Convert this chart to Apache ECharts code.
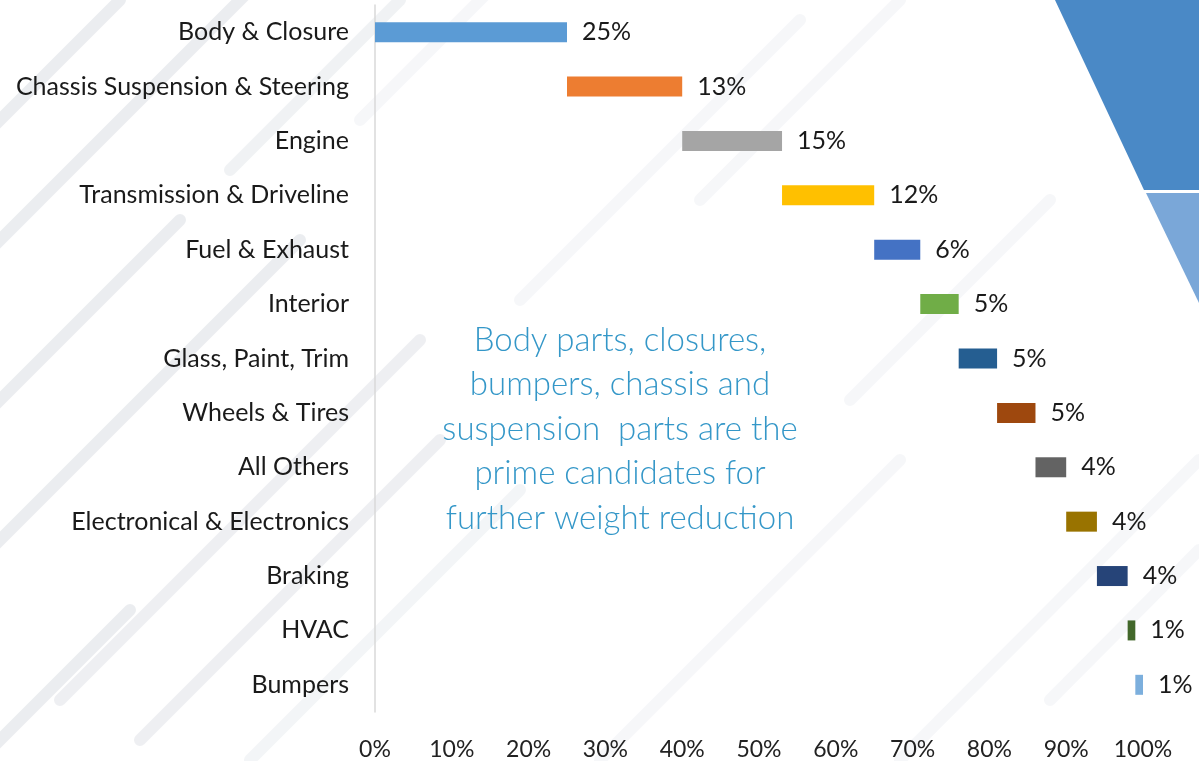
<!DOCTYPE html>
<html><head><meta charset="utf-8">
<script src="https://cdn.jsdelivr.net/npm/echarts@6/dist/echarts.min.js"></script>
<style>html,body{margin:0;padding:0;background:#fff}#c{width:1199px;height:761px}</style>
</head><body><div id="c"></div>
<script>
const categories = ["Body & Closure","Chassis Suspension & Steering","Engine","Transmission & Driveline","Fuel & Exhaust","Interior","Glass, Paint, Trim","Wheels & Tires","All Others","Electronical & Electronics","Braking","HVAC","Bumpers"];
const values = [25,15,13,12,6,5,5,5,4,4,4,1,1];
const labelTexts = ["25%","13%","15%","12%","6%","5%","5%","5%","4%","4%","4%","1%","1%"];
const colors = ["#5B9BD5","#ED7D31","#A5A5A5","#FFC000","#4472C4","#70AD47","#255E91","#9E480E","#636363","#997300","#264478","#43682B","#7CAFDD"];
const xTicks = [0,10,20,30,40,50,60,70,80,90,100];
const note = "Body parts, closures,\nbumpers, chassis and\nsuspension  parts are the\nprime candidates for\nfurther weight reduction";

const offsets = [];
let acc = 0;
values.forEach(v => { offsets.push(acc); acc += v; });

const chart = echarts.init(document.getElementById('c'));
const stripes = [];
const segs = [
 [[-20,140,],[120,0],0.7], [[-20,260],[250,-10],0.7], [[-20,420],[180,220],0.7], [[230,170],[400,0],0.5],
 [[-20,560],[300,240],0.7], [[60,700],[420,340],0.6], [[-20,760],[130,610],0.7], [[140,740],[440,440],0.6],
 [[250,760],[520,490],0.4], [[520,300],[800,20],0.3], [[600,760],[900,460],0.3], [[850,400],[1050,200],0.3],
 [[900,760],[1199,460],0.3], [[360,120],[560,-80],0.3], [[700,200],[900,0],0.3], [[1050,700],[1199,550],0.3]
];
segs.forEach(s => stripes.push({type:'line', silent:true, z:-10, shape:{x1:s[0][0],y1:s[0][1],x2:s[1][0],y2:s[1][1]}, style:{stroke:'rgba(226,229,234,'+s[2]+')', lineWidth:12, lineCap:'round'}}));

chart.setOption({
  animation:false,
  backgroundColor:'#ffffff',
  graphic: stripes.concat([
    {type:'polygon', silent:true, z:-5, shape:{points:[[1055,0],[1199,0],[1199,190],[1144,190]]}, style:{fill:'#4A89C6'}},
    {type:'polygon', silent:true, z:-5, shape:{points:[[1146,193],[1199,193],[1199,303]]}, style:{fill:'#7AA7D8'}},
    {type:'text', silent:true, z:10, x:620, y:318, style:{text:note, textAlign:'center', fill:'#3497C8', font:'300 33px Lato', lineHeight:44.5}}
  ]),
  grid:{left:375, right:56, top:5, bottom:49, containLabel:false},
  xAxis:{type:'value', min:0, max:100, interval:10,
    axisLabel:{formatter:v=>v+'%', color:'#222', fontSize:23, fontFamily:'Lato', margin:26},
    axisLine:{show:false}, axisTick:{show:false}, splitLine:{show:false}},
  yAxis:{type:'category', data:categories, inverse:true,
    axisLine:{show:true, lineStyle:{color:'#D9D9D9', width:1.5}}, axisTick:{show:false},
    axisLabel:{color:'#1a1a1a', fontSize:25, fontFamily:'Lato', margin:26}},
  series:[
    {type:'bar', stack:'w', data:offsets, itemStyle:{color:'transparent'}, barWidth:20, silent:true},
    {type:'bar', stack:'w', barWidth:20,
      data:values.map((v,i)=>({value:v, itemStyle:{color:colors[i]}})),
      label:{show:true, position:'right', distance:15, color:'#1a1a1a', fontSize:25, fontFamily:'Lato',
        formatter:p=>labelTexts[p.dataIndex]}}
  ]
});
</script></body></html>
